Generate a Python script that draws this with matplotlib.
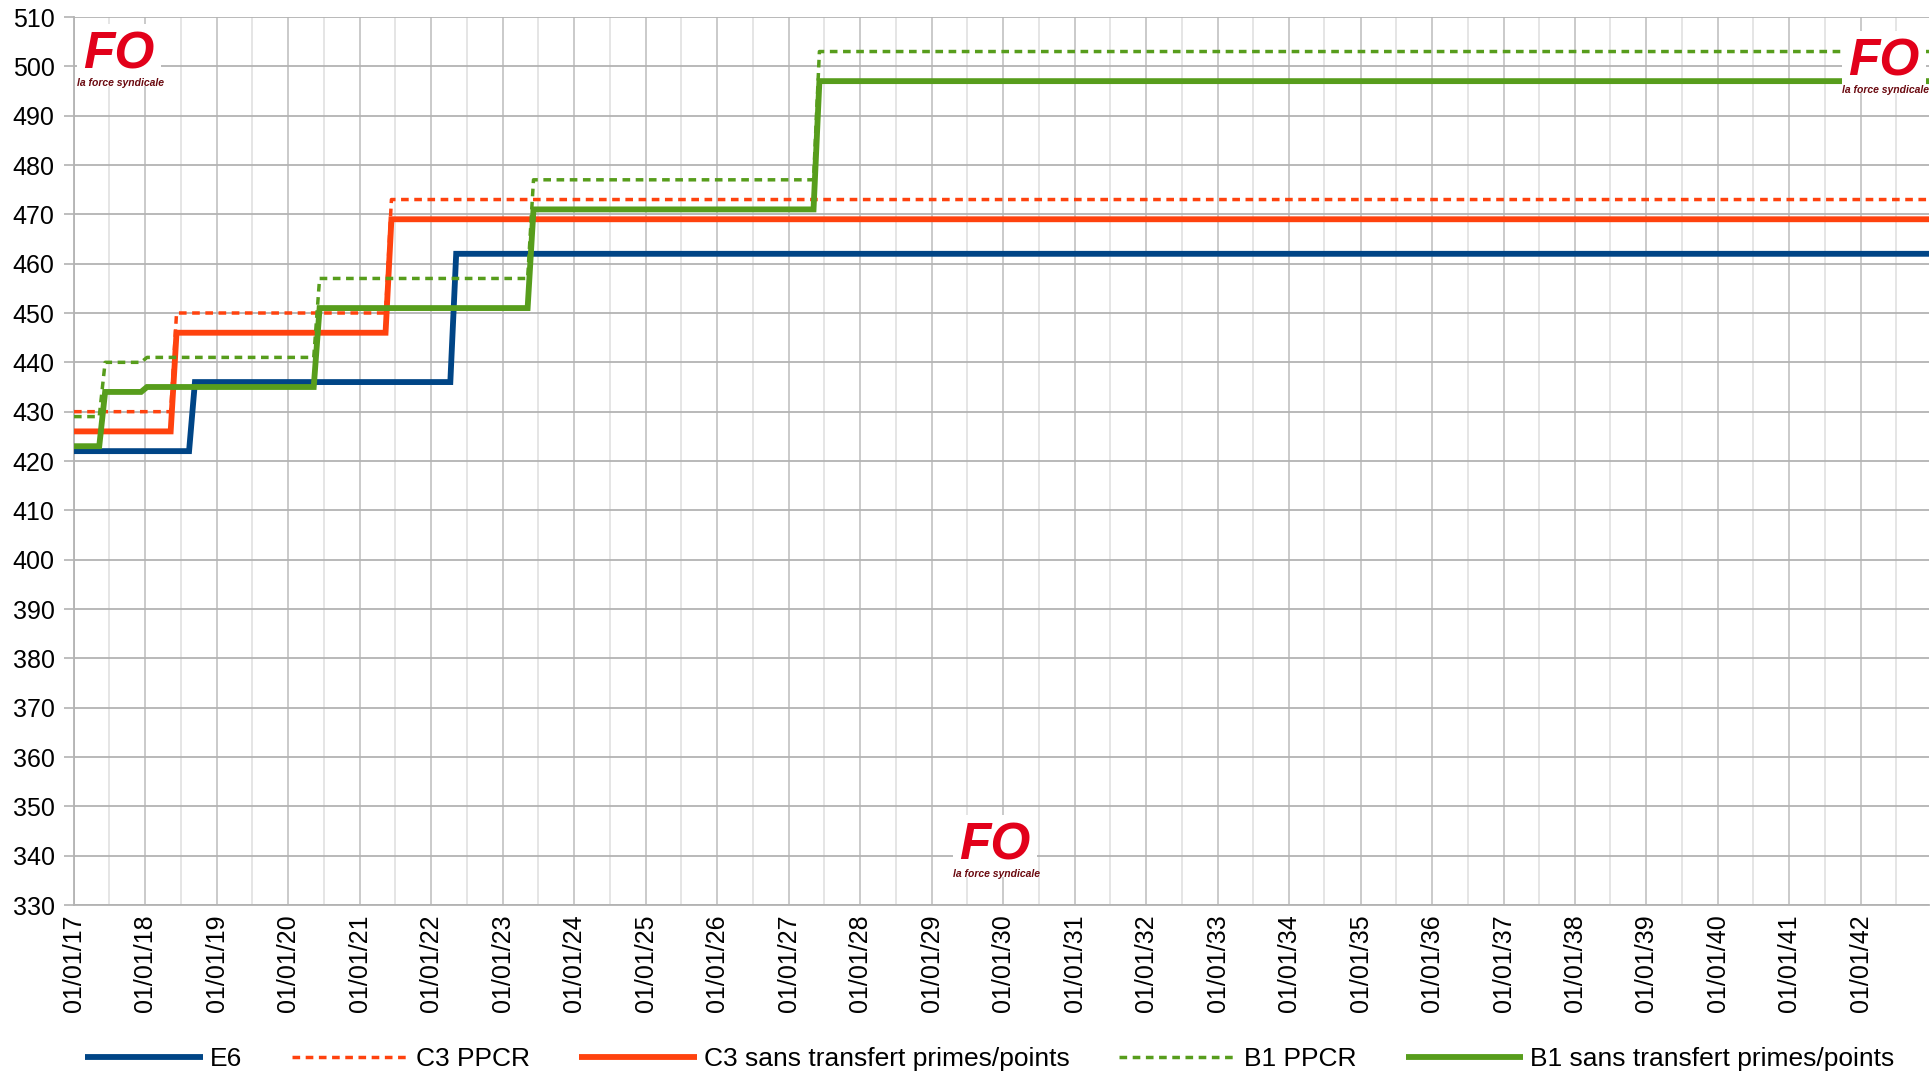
import datetime as dt
import matplotlib
matplotlib.use("Agg")
import matplotlib.pyplot as plt
import matplotlib.dates as mdates

plt.rcParams['font.family'] = ['Liberation Sans', 'DejaVu Sans']

# ---------------- data ----------------
start_date = dt.date(2017, 1, 1)
end_date = dt.date(2042, 12, 15)
ramp_days = 30

e6_start = 422
e6_dates = [dt.date(2018, 8, 12), dt.date(2022, 4, 8)]
e6_values = [436, 462]

c3ppcr_start = 430
c3ppcr_dates = [dt.date(2018, 5, 10), dt.date(2021, 5, 12)]
c3ppcr_values = [450, 473]

c3_start = 426
c3_dates = [dt.date(2018, 5, 10), dt.date(2021, 5, 12)]
c3_values = [446, 469]

b1ppcr_start = 429
b1ppcr_dates = [dt.date(2017, 5, 10), dt.date(2017, 12, 10), dt.date(2020, 5, 10),
                dt.date(2023, 5, 8), dt.date(2027, 5, 8)]
b1ppcr_values = [440, 441, 457, 477, 503]

b1_start = 423
b1_dates = [dt.date(2017, 5, 10), dt.date(2017, 12, 10), dt.date(2020, 5, 10),
            dt.date(2023, 5, 8), dt.date(2027, 5, 8)]
b1_values = [434, 435, 451, 471, 497]

labels = ["E6", "C3 PPCR", "C3 sans transfert primes/points", "B1 PPCR",
          "B1 sans transfert primes/points"]
colors = ["#004586", "#ff420e", "#ff420e", "#579d1c", "#579d1c"]
y_ticks = list(range(330, 511, 10))


def step_path(v0, dates, values):
    xs = [start_date]
    ys = [v0]
    prev = v0
    for d, v in zip(dates, values):
        xs += [d, d + dt.timedelta(days=ramp_days)]
        ys += [prev, v]
        prev = v
    xs.append(end_date)
    ys.append(prev)
    return xs, ys


series = [
    (e6_start, e6_dates, e6_values, "solid"),
    (c3ppcr_start, c3ppcr_dates, c3ppcr_values, "dashed"),
    (c3_start, c3_dates, c3_values, "solid"),
    (b1ppcr_start, b1ppcr_dates, b1ppcr_values, "dashed"),
    (b1_start, b1_dates, b1_values, "solid"),
]

fig = plt.figure(figsize=(19.32, 10.76), dpi=100)
ax = fig.add_axes([74 / 1932, 1 - 905 / 1076, (1929 - 74) / 1932, (905 - 17) / 1076])

handles = []
for (v0, ds, vs, style), lab, col in zip(series, labels, colors):
    xs, ys = step_path(v0, ds, vs)
    if style == "solid":
        h, = ax.plot(xs, ys, color=col, lw=4.2, solid_joinstyle='miter',
                     solid_capstyle='butt', label=lab, zorder=3)
    else:
        h, = ax.plot(xs, ys, color=col, lw=2.5, dashes=(2.2, 1.6),
                     dash_capstyle='butt', label=lab, zorder=3)
    handles.append(h)

ax.set_xlim(start_date, end_date)
ax.set_ylim(330, 510)
ax.set_yticks(y_ticks)

ax.xaxis.set_major_locator(mdates.YearLocator())
ax.xaxis.set_major_formatter(mdates.DateFormatter('%d/%m/%y'))
ax.xaxis.set_minor_locator(mdates.MonthLocator(bymonth=7))

ax.grid(True, which='major', axis='y', color='#b3b3b3', lw=1.3, zorder=0)
ax.grid(True, which='major', axis='x', color='#c6c6c6', lw=1.3, zorder=0)
ax.grid(True, which='minor', axis='x', color='#e3e3e3', lw=1.3, zorder=0)

for s in ['top', 'right']:
    ax.spines[s].set_visible(False)
for s in ['left', 'bottom']:
    ax.spines[s].set_color('#b3b3b3')
    ax.spines[s].set_linewidth(1.3)

ax.tick_params(axis='y', length=7.5, width=1.2, color='#b3b3b3', pad=6.5,
               labelsize=18, labelcolor='black')
ax.tick_params(axis='x', which='major', length=0, pad=7, labelsize=18,
               labelrotation=90, labelcolor='black')
ax.tick_params(axis='x', which='minor', length=0)

# FO logos (as text)
def fo_logo(xf, yf, size=37):
    fig.text(xf, yf, "FO", color='#e2001a', fontsize=size, fontweight='bold',
             fontstyle='italic', ha='center', va='center',
             bbox=dict(boxstyle='square,pad=0.12', fc='white', ec='none'), zorder=10)
    fig.text(xf + 0.001, yf - 0.026, "la force syndicale", color='#6b0a10', fontsize=7.5,
             fontweight='bold', fontstyle='italic', ha='center', va='center',
             zorder=11)

fo_logo(119 / 1932, 1 - 55 / 1076)
fo_logo(1884 / 1932, 1 - 62 / 1076)
fo_logo(995 / 1932, 1 - 846 / 1076)

fig.legend(handles=handles, labels=labels, loc='center', ncol=5,
           bbox_to_anchor=(990 / 1932, 1 - 1059 / 1076), frameon=False,
           fontsize=19, handlelength=4.45, handletextpad=0.28, columnspacing=1.86)

fig.savefig("out.png", dpi=100)
